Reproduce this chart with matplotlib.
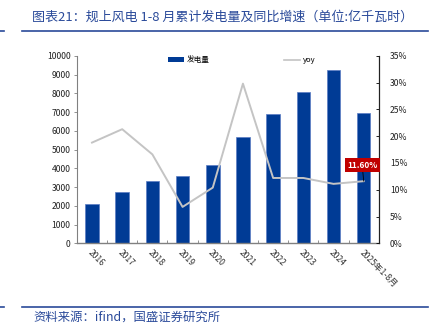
import matplotlib
matplotlib.use("Agg")
import matplotlib.pyplot as plt
from matplotlib.lines import Line2D
from matplotlib.ticker import FuncFormatter, MultipleLocator
import numpy as np

plt.rcParams['font.family'] = ['Noto Sans CJK SC', 'DejaVu Sans']

# 规上风电 1-8 月累计发电量（亿千瓦时）及同比增速（%）
years = ['2016', '2017', '2018', '2019', '2020', '2021', '2022', '2023', '2024', '2025年1-8月']
generation = [2110, 2720, 3300, 3590, 4190, 5690, 6890, 8090, 9240, 6970]
yoy = [18.8, 21.3, 16.6, 6.8, 10.4, 29.8, 12.2, 12.2, 11.1, 11.6]

BLUE = '#003b95'
GREY = '#c4c4c4'
TITLE_BLUE = '#2a4a9a'
TICK_FS = 6.2

fig = plt.figure(figsize=(4.42, 3.32), dpi=100)
ax = fig.add_axes([0.174, 0.267, 0.683, 0.565])
ax2 = ax.twinx()

x = np.arange(len(years))
ax.bar(x, generation, width=0.45, color=BLUE, edgecolor='#5a7cc4',
       linewidth=0.5, zorder=2)
ax2.plot(x, yoy, color=GREY, linewidth=1.4, zorder=3)

# left axis: 发电量
ax.set_xlim(-0.5, len(years) - 0.5)
ax.set_ylim(0, 10000)
ax.yaxis.set_major_locator(MultipleLocator(1000))
ax.tick_params(axis='y', labelsize=TICK_FS, length=2.5, width=0.6, color='#808080',
               pad=2, labelcolor='#222222')
ax.set_xticks(x)
ax.set_xticklabels([])
ax.set_xticks(np.arange(len(years) + 1) - 0.5, minor=True)
ax.tick_params(axis='x', which='major', length=0)
ax.tick_params(axis='x', which='minor', direction='in', length=2.5, width=0.6, color='#808080')
for i, lab in enumerate(years):
    ax.text(i - 0.1, -420, lab, rotation=-45, rotation_mode='anchor',
            ha='left', va='center', fontsize=TICK_FS, color='#333333')

ax.spines['top'].set_visible(False)
ax2.spines['top'].set_visible(False)
ax.spines['left'].set_color('#808080')
ax.spines['bottom'].set_color('#808080')
ax.spines['bottom'].set_linewidth(1.0)
ax.spines['left'].set_linewidth(0.8)
ax2.spines['left'].set_visible(False)
ax2.spines['bottom'].set_visible(False)
ax2.spines['right'].set_color('#222222')
ax2.spines['right'].set_linewidth(0.8)

# right axis: yoy
ax2.set_ylim(0, 35)
ax2.yaxis.set_major_locator(MultipleLocator(5))
ax2.yaxis.set_major_formatter(FuncFormatter(lambda v, p: f'{v:.0f}%'))
ax2.tick_params(axis='y', labelsize=TICK_FS, direction='in', length=2.5, width=0.6,
                pad=8, labelcolor='#222222')

# latest value label
last = len(years) - 1
ax2.annotate(f'{yoy[last]:.2f}%', xy=(x[last], yoy[last]), xytext=(x[last] - 0.05, 14.6),
             ha='center', va='center', fontsize=6, fontweight='bold', color='white',
             bbox=dict(boxstyle='square,pad=0.3', fc='#c00000', ec='none'),
             arrowprops=dict(arrowstyle='-', color='black', lw=0.6, shrinkA=0, shrinkB=0),
             zorder=5)

handles = [plt.Rectangle((0, 0), 1, 1, fc=BLUE, ec='none'),
           Line2D([], [], color=GREY, lw=1.2)]
ax.legend(handles, ['发电量', 'yoy'], loc='upper center', bbox_to_anchor=(0.545, 1.035),
          ncol=2, frameon=False, fontsize=5.5, handlelength=2.2, handleheight=0.6,
          columnspacing=9.7, handletextpad=0.3)

# header and footer
fig.text(0.072, 0.948, '图表21：规上风电 1-8 月累计发电量及同比增速（单位:亿千瓦时）',
         fontsize=9.4, color=TITLE_BLUE, style='italic', ha='left', va='center')
fig.add_artist(Line2D([0.05, 0.968], [0.906, 0.906], color=TITLE_BLUE, lw=1.2))
fig.add_artist(Line2D([0.0, 0.008], [0.906, 0.906], color=TITLE_BLUE, lw=1.2))
fig.add_artist(Line2D([0.05, 0.968], [0.075, 0.075], color=TITLE_BLUE, lw=1.2))
fig.add_artist(Line2D([0.0, 0.008], [0.075, 0.075], color=TITLE_BLUE, lw=1.2))
fig.text(0.075, 0.046, '资料来源：ifind，国盛证券研究所', fontsize=8.9,
         color=TITLE_BLUE, style='italic', ha='left', va='center')

fig.savefig('out.png', dpi=100)
